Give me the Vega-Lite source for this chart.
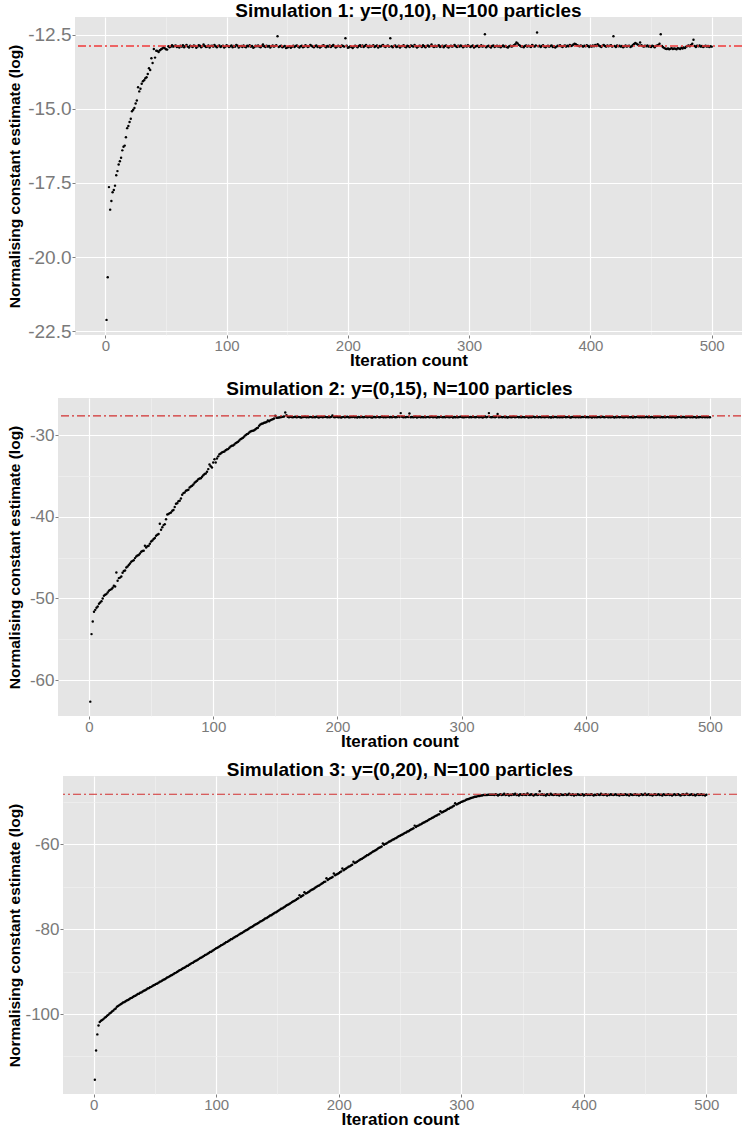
{
  "$schema": "https://vega.github.io/schema/vega-lite/v6.json",
  "background": "white",
  "padding": {"left": 6, "top": 2, "right": 0, "bottom": 0},
  "spacing": 12,
  "config": {
    "font": "Liberation Sans",
    "view": {"fill": "#E5E5E5", "stroke": null},
    "axis": {
      "domain": false,
      "tickColor": "#7F7F7F",
      "tickSize": 3,
      "labelColor": "#7A7A7A",
      "labelFont": "Liberation Sans",
      "titleFont": "Liberation Sans",
      "titleFontWeight": "bold",
      "titleColor": "black"
    },
    "axisX": {"labelFontSize": 15, "labelPadding": 0, "titleFontSize": 17, "titlePadding": -1},
    "axisY": {"labelFontSize": 17, "labelPadding": 1, "titleFontSize": 15.5},
    "title": {"font": "Liberation Sans", "fontSize": 19, "fontWeight": "bold", "color": "black", "anchor": "middle", "offset": -4}
  },
  "datasets": {
    "sim1": [
      {"i":1,"v":-22.12},{"i":2,"v":-20.68},{"i":3,"v":-17.64},{"i":4,"v":-18.40},{"i":5,"v":-18.11},{"i":6,"v":-17.81},{"i":7,"v":-17.74},{"i":8,"v":-17.59},{"i":9,"v":-17.24},{"i":10,"v":-17.10},
      {"i":11,"v":-16.88},{"i":12,"v":-16.77},{"i":13,"v":-16.65},{"i":14,"v":-16.40},{"i":15,"v":-16.28},{"i":16,"v":-16.24},{"i":17,"v":-15.96},{"i":18,"v":-15.65},{"i":19,"v":-15.58},{"i":20,"v":-15.44},
      {"i":21,"v":-15.33},{"i":22,"v":-15.08},{"i":23,"v":-15.03},{"i":24,"v":-14.97},{"i":25,"v":-14.82},{"i":26,"v":-14.72},{"i":27,"v":-14.27},{"i":28,"v":-14.41},{"i":29,"v":-14.32},{"i":30,"v":-14.15},
      {"i":31,"v":-14.07},{"i":32,"v":-14.03},{"i":33,"v":-13.97},{"i":34,"v":-13.93},{"i":35,"v":-13.82},{"i":36,"v":-13.63},{"i":37,"v":-13.69},{"i":38,"v":-13.29},{"i":39,"v":-13.45},{"i":40,"v":-12.98},
      {"i":41,"v":-13.27},{"i":42,"v":-13.04},{"i":43,"v":-13.05},{"i":44,"v":-13.08},{"i":45,"v":-13.02},{"i":46,"v":-12.99},{"i":47,"v":-12.96},{"i":48,"v":-12.93},{"i":49,"v":-12.95},{"i":50,"v":-12.99},
      {"i":51,"v":-13.00},{"i":52,"v":-12.89},{"i":53,"v":-12.92},{"i":54,"v":-12.90},{"i":55,"v":-12.85},{"i":56,"v":-12.90},{"i":57,"v":-12.88},{"i":58,"v":-12.86},{"i":59,"v":-12.91},{"i":60,"v":-12.89},
      {"i":61,"v":-12.93},{"i":62,"v":-12.87},{"i":63,"v":-12.90},{"i":64,"v":-12.85},{"i":65,"v":-12.92},{"i":66,"v":-12.88},{"i":67,"v":-12.84},{"i":68,"v":-12.90},{"i":69,"v":-12.93},{"i":70,"v":-12.87},
      {"i":71,"v":-12.89},{"i":72,"v":-12.91},{"i":73,"v":-12.86},{"i":74,"v":-12.88},{"i":75,"v":-12.94},{"i":76,"v":-12.90},{"i":77,"v":-12.85},{"i":78,"v":-12.87},{"i":79,"v":-12.92},{"i":80,"v":-12.89},
      {"i":81,"v":-12.83},{"i":82,"v":-12.88},{"i":83,"v":-12.91},{"i":84,"v":-12.90},{"i":85,"v":-12.86},{"i":86,"v":-12.93},{"i":87,"v":-12.88},{"i":88,"v":-12.87},{"i":89,"v":-12.90},{"i":90,"v":-12.84},
      {"i":91,"v":-12.89},{"i":92,"v":-12.92},{"i":93,"v":-12.88},{"i":94,"v":-12.86},{"i":95,"v":-12.91},{"i":96,"v":-12.89},{"i":97,"v":-12.87},{"i":98,"v":-12.93},{"i":99,"v":-12.90},{"i":100,"v":-12.85},
      {"i":101,"v":-12.88},{"i":102,"v":-12.91},{"i":103,"v":-12.89},{"i":104,"v":-12.86},{"i":105,"v":-12.92},{"i":106,"v":-12.88},{"i":107,"v":-12.90},{"i":108,"v":-12.84},{"i":109,"v":-12.87},{"i":110,"v":-12.93},
      {"i":111,"v":-12.89},{"i":112,"v":-12.88},{"i":113,"v":-12.91},{"i":114,"v":-12.86},{"i":115,"v":-12.90},{"i":116,"v":-12.92},{"i":117,"v":-12.87},{"i":118,"v":-12.89},{"i":119,"v":-12.85},{"i":120,"v":-12.90},
      {"i":121,"v":-12.88},{"i":122,"v":-12.94},{"i":123,"v":-12.91},{"i":124,"v":-12.87},{"i":125,"v":-12.89},{"i":126,"v":-12.86},{"i":127,"v":-12.90},{"i":128,"v":-12.92},{"i":129,"v":-12.88},{"i":130,"v":-12.83},
      {"i":131,"v":-12.89},{"i":132,"v":-12.91},{"i":133,"v":-12.87},{"i":134,"v":-12.90},{"i":135,"v":-12.88},{"i":136,"v":-12.93},{"i":137,"v":-12.89},{"i":138,"v":-12.86},{"i":139,"v":-12.90},{"i":140,"v":-12.88},
      {"i":141,"v":-12.85},{"i":142,"v":-12.55},{"i":143,"v":-12.91},{"i":144,"v":-12.89},{"i":145,"v":-12.87},{"i":146,"v":-12.92},{"i":147,"v":-12.90},{"i":148,"v":-12.88},{"i":149,"v":-12.95},{"i":150,"v":-12.93},
      {"i":151,"v":-12.91},{"i":152,"v":-12.89},{"i":153,"v":-12.94},{"i":154,"v":-12.90},{"i":155,"v":-12.87},{"i":156,"v":-12.91},{"i":157,"v":-12.88},{"i":158,"v":-12.86},{"i":159,"v":-12.90},{"i":160,"v":-12.93},
      {"i":161,"v":-12.89},{"i":162,"v":-12.87},{"i":163,"v":-12.92},{"i":164,"v":-12.90},{"i":165,"v":-12.85},{"i":166,"v":-12.88},{"i":167,"v":-12.91},{"i":168,"v":-12.89},{"i":169,"v":-12.84},{"i":170,"v":-12.87},
      {"i":171,"v":-12.90},{"i":172,"v":-12.92},{"i":173,"v":-12.88},{"i":174,"v":-12.86},{"i":175,"v":-12.91},{"i":176,"v":-12.89},{"i":177,"v":-12.93},{"i":178,"v":-12.90},{"i":179,"v":-12.87},{"i":180,"v":-12.85},
      {"i":181,"v":-12.89},{"i":182,"v":-12.92},{"i":183,"v":-12.88},{"i":184,"v":-12.90},{"i":185,"v":-12.86},{"i":186,"v":-12.91},{"i":187,"v":-12.88},{"i":188,"v":-12.84},{"i":189,"v":-12.89},{"i":190,"v":-12.93},
      {"i":191,"v":-12.90},{"i":192,"v":-12.87},{"i":193,"v":-12.89},{"i":194,"v":-12.91},{"i":195,"v":-12.86},{"i":196,"v":-12.88},{"i":197,"v":-12.90},{"i":198,"v":-12.62},{"i":199,"v":-12.87},{"i":200,"v":-12.94},
      {"i":201,"v":-12.92},{"i":202,"v":-12.89},{"i":203,"v":-12.91},{"i":204,"v":-12.95},{"i":205,"v":-12.90},{"i":206,"v":-12.87},{"i":207,"v":-12.89},{"i":208,"v":-12.92},{"i":209,"v":-12.88},{"i":210,"v":-12.85},
      {"i":211,"v":-12.90},{"i":212,"v":-12.86},{"i":213,"v":-12.91},{"i":214,"v":-12.88},{"i":215,"v":-12.84},{"i":216,"v":-12.89},{"i":217,"v":-12.92},{"i":218,"v":-12.87},{"i":219,"v":-12.90},{"i":220,"v":-12.88},
      {"i":221,"v":-12.85},{"i":222,"v":-12.91},{"i":223,"v":-12.89},{"i":224,"v":-12.86},{"i":225,"v":-12.93},{"i":226,"v":-12.88},{"i":227,"v":-12.90},{"i":228,"v":-12.87},{"i":229,"v":-12.84},{"i":230,"v":-12.89},
      {"i":231,"v":-12.91},{"i":232,"v":-12.88},{"i":233,"v":-12.86},{"i":234,"v":-12.90},{"i":235,"v":-12.62},{"i":236,"v":-12.89},{"i":237,"v":-12.92},{"i":238,"v":-12.88},{"i":239,"v":-12.86},{"i":240,"v":-12.91},
      {"i":241,"v":-12.90},{"i":242,"v":-12.87},{"i":243,"v":-12.93},{"i":244,"v":-12.89},{"i":245,"v":-12.88},{"i":246,"v":-12.85},{"i":247,"v":-12.90},{"i":248,"v":-12.92},{"i":249,"v":-12.87},{"i":250,"v":-12.89},
      {"i":251,"v":-12.91},{"i":252,"v":-12.86},{"i":253,"v":-12.88},{"i":254,"v":-12.90},{"i":255,"v":-12.84},{"i":256,"v":-12.89},{"i":257,"v":-12.93},{"i":258,"v":-12.90},{"i":259,"v":-12.87},{"i":260,"v":-12.88},
      {"i":261,"v":-12.91},{"i":262,"v":-12.85},{"i":263,"v":-12.89},{"i":264,"v":-12.92},{"i":265,"v":-12.88},{"i":266,"v":-12.86},{"i":267,"v":-12.90},{"i":268,"v":-12.88},{"i":269,"v":-12.83},{"i":270,"v":-12.89},
      {"i":271,"v":-12.91},{"i":272,"v":-12.87},{"i":273,"v":-12.90},{"i":274,"v":-12.88},{"i":275,"v":-12.85},{"i":276,"v":-12.91},{"i":277,"v":-12.89},{"i":278,"v":-12.87},{"i":279,"v":-12.92},{"i":280,"v":-12.88},
      {"i":281,"v":-12.86},{"i":282,"v":-12.90},{"i":283,"v":-12.93},{"i":284,"v":-12.89},{"i":285,"v":-12.87},{"i":286,"v":-12.90},{"i":287,"v":-12.88},{"i":288,"v":-12.84},{"i":289,"v":-12.89},{"i":290,"v":-12.91},
      {"i":291,"v":-12.87},{"i":292,"v":-12.90},{"i":293,"v":-12.86},{"i":294,"v":-12.88},{"i":295,"v":-12.92},{"i":296,"v":-12.89},{"i":297,"v":-12.87},{"i":298,"v":-12.90},{"i":299,"v":-12.85},{"i":300,"v":-12.88},
      {"i":301,"v":-12.91},{"i":302,"v":-12.89},{"i":303,"v":-12.86},{"i":304,"v":-12.93},{"i":305,"v":-12.90},{"i":306,"v":-12.88},{"i":307,"v":-12.87},{"i":308,"v":-12.91},{"i":309,"v":-12.89},{"i":310,"v":-12.85},
      {"i":311,"v":-12.90},{"i":312,"v":-12.88},{"i":313,"v":-12.48},{"i":314,"v":-12.92},{"i":315,"v":-12.89},{"i":316,"v":-12.87},{"i":317,"v":-12.90},{"i":318,"v":-12.93},{"i":319,"v":-12.88},{"i":320,"v":-12.86},
      {"i":321,"v":-12.91},{"i":322,"v":-12.89},{"i":323,"v":-12.87},{"i":324,"v":-12.90},{"i":325,"v":-12.88},{"i":326,"v":-12.92},{"i":327,"v":-12.89},{"i":328,"v":-12.86},{"i":329,"v":-12.90},{"i":330,"v":-12.88},
      {"i":331,"v":-12.91},{"i":332,"v":-12.93},{"i":333,"v":-12.89},{"i":334,"v":-12.87},{"i":335,"v":-12.90},{"i":336,"v":-12.88},{"i":337,"v":-12.85},{"i":338,"v":-12.82},{"i":339,"v":-12.76},{"i":340,"v":-12.79},
      {"i":341,"v":-12.84},{"i":342,"v":-12.87},{"i":343,"v":-12.90},{"i":344,"v":-12.89},{"i":345,"v":-12.92},{"i":346,"v":-12.88},{"i":347,"v":-12.86},{"i":348,"v":-12.90},{"i":349,"v":-12.87},{"i":350,"v":-12.89},
      {"i":351,"v":-12.91},{"i":352,"v":-12.84},{"i":353,"v":-12.88},{"i":354,"v":-12.90},{"i":355,"v":-12.86},{"i":356,"v":-12.42},{"i":357,"v":-12.89},{"i":358,"v":-12.87},{"i":359,"v":-12.91},{"i":360,"v":-12.88},
      {"i":361,"v":-12.85},{"i":362,"v":-12.90},{"i":363,"v":-12.92},{"i":364,"v":-12.89},{"i":365,"v":-12.87},{"i":366,"v":-12.90},{"i":367,"v":-12.88},{"i":368,"v":-12.86},{"i":369,"v":-12.91},{"i":370,"v":-12.89},
      {"i":371,"v":-12.93},{"i":372,"v":-12.90},{"i":373,"v":-12.87},{"i":374,"v":-12.88},{"i":375,"v":-12.85},{"i":376,"v":-12.89},{"i":377,"v":-12.91},{"i":378,"v":-12.88},{"i":379,"v":-12.86},{"i":380,"v":-12.90},
      {"i":381,"v":-12.87},{"i":382,"v":-12.89},{"i":383,"v":-12.84},{"i":384,"v":-12.88},{"i":385,"v":-12.86},{"i":386,"v":-12.83},{"i":387,"v":-12.80},{"i":388,"v":-12.82},{"i":389,"v":-12.85},{"i":390,"v":-12.87},
      {"i":391,"v":-12.89},{"i":392,"v":-12.86},{"i":393,"v":-12.88},{"i":394,"v":-12.90},{"i":395,"v":-12.87},{"i":396,"v":-12.89},{"i":397,"v":-12.85},{"i":398,"v":-12.88},{"i":399,"v":-12.91},{"i":400,"v":-12.87},
      {"i":401,"v":-12.90},{"i":402,"v":-12.86},{"i":403,"v":-12.89},{"i":404,"v":-12.84},{"i":405,"v":-12.88},{"i":406,"v":-12.82},{"i":407,"v":-12.86},{"i":408,"v":-12.89},{"i":409,"v":-12.91},{"i":410,"v":-12.87},
      {"i":411,"v":-12.84},{"i":412,"v":-12.88},{"i":413,"v":-12.90},{"i":414,"v":-12.86},{"i":415,"v":-12.89},{"i":416,"v":-12.87},{"i":417,"v":-12.85},{"i":418,"v":-12.90},{"i":419,"v":-12.55},{"i":420,"v":-12.88},
      {"i":421,"v":-12.91},{"i":422,"v":-12.86},{"i":423,"v":-12.89},{"i":424,"v":-12.87},{"i":425,"v":-12.90},{"i":426,"v":-12.88},{"i":427,"v":-12.92},{"i":428,"v":-12.89},{"i":429,"v":-12.86},{"i":430,"v":-12.90},
      {"i":431,"v":-12.88},{"i":432,"v":-12.87},{"i":433,"v":-12.91},{"i":434,"v":-12.89},{"i":435,"v":-12.84},{"i":436,"v":-12.81},{"i":437,"v":-12.78},{"i":438,"v":-12.80},{"i":439,"v":-12.83},{"i":440,"v":-12.86},
      {"i":441,"v":-12.76},{"i":442,"v":-12.85},{"i":443,"v":-12.88},{"i":444,"v":-12.90},{"i":445,"v":-12.87},{"i":446,"v":-12.89},{"i":447,"v":-12.86},{"i":448,"v":-12.90},{"i":449,"v":-12.88},{"i":450,"v":-12.91},
      {"i":451,"v":-12.87},{"i":452,"v":-12.89},{"i":453,"v":-12.92},{"i":454,"v":-12.88},{"i":455,"v":-12.86},{"i":456,"v":-12.84},{"i":457,"v":-12.80},{"i":458,"v":-12.48},{"i":459,"v":-12.88},{"i":460,"v":-12.92},
      {"i":461,"v":-12.95},{"i":462,"v":-12.97},{"i":463,"v":-12.98},{"i":464,"v":-12.96},{"i":465,"v":-12.99},{"i":466,"v":-12.97},{"i":467,"v":-12.95},{"i":468,"v":-12.98},{"i":469,"v":-12.96},{"i":470,"v":-12.97},
      {"i":471,"v":-12.99},{"i":472,"v":-12.95},{"i":473,"v":-12.96},{"i":474,"v":-12.98},{"i":475,"v":-12.94},{"i":476,"v":-12.96},{"i":477,"v":-12.93},{"i":478,"v":-12.95},{"i":479,"v":-12.90},{"i":480,"v":-12.88},
      {"i":481,"v":-12.86},{"i":482,"v":-12.89},{"i":483,"v":-12.84},{"i":484,"v":-12.80},{"i":485,"v":-12.67},{"i":486,"v":-12.88},{"i":487,"v":-12.91},{"i":488,"v":-12.87},{"i":489,"v":-12.89},{"i":490,"v":-12.86},
      {"i":491,"v":-12.90},{"i":492,"v":-12.88},{"i":493,"v":-12.91},{"i":494,"v":-12.89},{"i":495,"v":-12.87},{"i":496,"v":-12.90},{"i":497,"v":-12.88},{"i":498,"v":-12.91},{"i":499,"v":-12.89},{"i":500,"v":-12.90}
    ],
    "sim2": [
      {"i":1,"v":-62.64},{"i":2,"v":-54.37},{"i":3,"v":-52.82},{"i":4,"v":-51.63},{"i":5,"v":-51.40},{"i":6,"v":-51.14},{"i":7,"v":-50.98},{"i":8,"v":-50.65},{"i":9,"v":-50.50},{"i":10,"v":-50.33},
      {"i":11,"v":-50.00},{"i":12,"v":-49.67},{"i":13,"v":-49.55},{"i":14,"v":-49.47},{"i":15,"v":-49.27},{"i":16,"v":-49.06},{"i":17,"v":-48.95},{"i":18,"v":-48.86},{"i":19,"v":-48.69},{"i":20,"v":-48.45},
      {"i":21,"v":-48.53},{"i":22,"v":-46.82},{"i":23,"v":-47.84},{"i":24,"v":-47.51},{"i":25,"v":-47.45},{"i":26,"v":-47.31},{"i":27,"v":-46.85},{"i":28,"v":-46.65},{"i":29,"v":-46.57},{"i":30,"v":-46.20},
      {"i":31,"v":-46.08},{"i":32,"v":-45.90},{"i":33,"v":-45.71},{"i":34,"v":-45.51},{"i":35,"v":-45.40},{"i":36,"v":-45.31},{"i":37,"v":-45.06},{"i":38,"v":-44.86},{"i":39,"v":-44.75},{"i":40,"v":-44.69},
      {"i":41,"v":-44.49},{"i":42,"v":-44.29},{"i":43,"v":-44.20},{"i":44,"v":-44.16},{"i":45,"v":-43.55},{"i":46,"v":-43.76},{"i":47,"v":-43.60},{"i":48,"v":-43.55},{"i":49,"v":-43.31},{"i":50,"v":-43.02},
      {"i":51,"v":-42.90},{"i":52,"v":-42.73},{"i":53,"v":-42.61},{"i":54,"v":-42.33},{"i":55,"v":-42.20},{"i":56,"v":-42.12},{"i":57,"v":-40.86},{"i":58,"v":-41.59},{"i":59,"v":-41.27},{"i":60,"v":-41.02},
      {"i":61,"v":-40.90},{"i":62,"v":-40.29},{"i":63,"v":-39.71},{"i":64,"v":-39.67},{"i":65,"v":-39.55},{"i":66,"v":-39.47},{"i":67,"v":-39.27},{"i":68,"v":-39.18},{"i":69,"v":-38.80},{"i":70,"v":-38.41},
      {"i":71,"v":-38.33},{"i":72,"v":-38.10},{"i":73,"v":-38.04},{"i":74,"v":-37.76},{"i":75,"v":-37.31},{"i":76,"v":-37.10},{"i":77,"v":-37.02},{"i":78,"v":-36.82},{"i":79,"v":-36.75},{"i":80,"v":-36.69},
      {"i":81,"v":-36.41},{"i":82,"v":-36.30},{"i":83,"v":-36.20},{"i":84,"v":-36.04},{"i":85,"v":-35.84},{"i":86,"v":-35.70},{"i":87,"v":-35.59},{"i":88,"v":-35.39},{"i":89,"v":-35.30},{"i":90,"v":-35.27},
      {"i":91,"v":-35.10},{"i":92,"v":-34.90},{"i":93,"v":-34.75},{"i":94,"v":-34.69},{"i":95,"v":-34.49},{"i":96,"v":-34.16},{"i":97,"v":-33.59},{"i":98,"v":-33.80},{"i":99,"v":-33.96},{"i":100,"v":-33.35},
      {"i":101,"v":-32.94},{"i":102,"v":-33.35},{"i":103,"v":-32.86},{"i":104,"v":-32.60},{"i":105,"v":-32.33},{"i":106,"v":-32.24},{"i":107,"v":-32.12},{"i":108,"v":-32.05},{"i":109,"v":-32.00},{"i":110,"v":-31.84},
      {"i":111,"v":-31.75},{"i":112,"v":-31.71},{"i":113,"v":-31.55},{"i":114,"v":-31.39},{"i":115,"v":-31.30},{"i":116,"v":-31.27},{"i":117,"v":-31.14},{"i":118,"v":-30.98},{"i":119,"v":-30.90},{"i":120,"v":-30.82},
      {"i":121,"v":-30.65},{"i":122,"v":-30.49},{"i":123,"v":-30.40},{"i":124,"v":-30.33},{"i":125,"v":-30.16},{"i":126,"v":-30.00},{"i":127,"v":-29.90},{"i":128,"v":-29.84},{"i":129,"v":-29.67},{"i":130,"v":-29.55},
      {"i":131,"v":-29.50},{"i":132,"v":-29.47},{"i":133,"v":-29.39},{"i":134,"v":-29.27},{"i":135,"v":-29.15},{"i":136,"v":-29.10},{"i":137,"v":-28.86},{"i":138,"v":-28.69},{"i":139,"v":-28.60},{"i":140,"v":-28.57},
      {"i":141,"v":-28.49},{"i":142,"v":-28.45},{"i":143,"v":-28.38},{"i":144,"v":-28.20},{"i":145,"v":-28.29},{"i":146,"v":-28.16},{"i":147,"v":-28.10},{"i":148,"v":-28.04},{"i":149,"v":-27.96},{"i":150,"v":-27.63},
      {"i":151,"v":-27.88},{"i":152,"v":-27.86},{"i":153,"v":-27.84},{"i":154,"v":-27.80},{"i":155,"v":-27.78},{"i":156,"v":-27.76},{"i":157,"v":-27.71},{"i":158,"v":-27.22},{"i":159,"v":-27.55},{"i":160,"v":-27.76},
      {"i":161,"v":-27.80},{"i":162,"v":-27.74},{"i":163,"v":-27.77},{"i":164,"v":-27.82},{"i":165,"v":-27.79},{"i":166,"v":-27.75},{"i":167,"v":-27.81},{"i":168,"v":-27.78},{"i":169,"v":-27.76},{"i":170,"v":-27.80},
      {"i":171,"v":-27.83},{"i":172,"v":-27.79},{"i":173,"v":-27.77},{"i":174,"v":-27.74},{"i":175,"v":-27.80},{"i":176,"v":-27.78},{"i":177,"v":-27.82},{"i":178,"v":-27.76},{"i":179,"v":-27.79},{"i":180,"v":-27.81},
      {"i":181,"v":-27.77},{"i":182,"v":-27.80},{"i":183,"v":-27.75},{"i":184,"v":-27.78},{"i":185,"v":-27.83},{"i":186,"v":-27.79},{"i":187,"v":-27.76},{"i":188,"v":-27.81},{"i":189,"v":-27.78},{"i":190,"v":-27.74},
      {"i":191,"v":-27.79},{"i":192,"v":-27.82},{"i":193,"v":-27.77},{"i":194,"v":-27.80},{"i":195,"v":-27.76},{"i":196,"v":-27.60},{"i":197,"v":-27.79},{"i":198,"v":-27.81},{"i":199,"v":-27.75},{"i":200,"v":-27.78},
      {"i":201,"v":-27.80},{"i":202,"v":-27.77},{"i":203,"v":-27.83},{"i":204,"v":-27.79},{"i":205,"v":-27.76},{"i":206,"v":-27.81},{"i":207,"v":-27.78},{"i":208,"v":-27.74},{"i":209,"v":-27.80},{"i":210,"v":-27.82},
      {"i":211,"v":-27.77},{"i":212,"v":-27.79},{"i":213,"v":-27.75},{"i":214,"v":-27.81},{"i":215,"v":-27.78},{"i":216,"v":-27.83},{"i":217,"v":-27.76},{"i":218,"v":-27.80},{"i":219,"v":-27.79},{"i":220,"v":-27.77},
      {"i":221,"v":-27.82},{"i":222,"v":-27.78},{"i":223,"v":-27.75},{"i":224,"v":-27.80},{"i":225,"v":-27.79},{"i":226,"v":-27.76},{"i":227,"v":-27.81},{"i":228,"v":-27.84},{"i":229,"v":-27.78},{"i":230,"v":-27.77},
      {"i":231,"v":-27.80},{"i":232,"v":-27.76},{"i":233,"v":-27.79},{"i":234,"v":-27.82},{"i":235,"v":-27.78},{"i":236,"v":-27.75},{"i":237,"v":-27.81},{"i":238,"v":-27.77},{"i":239,"v":-27.80},{"i":240,"v":-27.79},
      {"i":241,"v":-27.76},{"i":242,"v":-27.82},{"i":243,"v":-27.78},{"i":244,"v":-27.80},{"i":245,"v":-27.74},{"i":246,"v":-27.79},{"i":247,"v":-27.81},{"i":248,"v":-27.77},{"i":249,"v":-27.70},{"i":250,"v":-27.78},
      {"i":251,"v":-27.30},{"i":252,"v":-27.75},{"i":253,"v":-27.80},{"i":254,"v":-27.78},{"i":255,"v":-27.82},{"i":256,"v":-27.76},{"i":257,"v":-27.79},{"i":258,"v":-27.35},{"i":259,"v":-27.81},{"i":260,"v":-27.77},
      {"i":261,"v":-27.80},{"i":262,"v":-27.78},{"i":263,"v":-27.75},{"i":264,"v":-27.83},{"i":265,"v":-27.79},{"i":266,"v":-27.76},{"i":267,"v":-27.81},{"i":268,"v":-27.78},{"i":269,"v":-27.80},{"i":270,"v":-27.77},
      {"i":271,"v":-27.82},{"i":272,"v":-27.79},{"i":273,"v":-27.76},{"i":274,"v":-27.80},{"i":275,"v":-27.78},{"i":276,"v":-27.74},{"i":277,"v":-27.81},{"i":278,"v":-27.79},{"i":279,"v":-27.77},{"i":280,"v":-27.83},
      {"i":281,"v":-27.78},{"i":282,"v":-27.80},{"i":283,"v":-27.76},{"i":284,"v":-27.79},{"i":285,"v":-27.82},{"i":286,"v":-27.77},{"i":287,"v":-27.80},{"i":288,"v":-27.75},{"i":289,"v":-27.78},{"i":290,"v":-27.81},
      {"i":291,"v":-27.79},{"i":292,"v":-27.76},{"i":293,"v":-27.83},{"i":294,"v":-27.78},{"i":295,"v":-27.80},{"i":296,"v":-27.77},{"i":297,"v":-27.81},{"i":298,"v":-27.79},{"i":299,"v":-27.74},{"i":300,"v":-27.78},
      {"i":301,"v":-27.80},{"i":302,"v":-27.82},{"i":303,"v":-27.77},{"i":304,"v":-27.79},{"i":305,"v":-27.76},{"i":306,"v":-27.81},{"i":307,"v":-27.78},{"i":308,"v":-27.80},{"i":309,"v":-27.75},{"i":310,"v":-27.79},
      {"i":311,"v":-27.82},{"i":312,"v":-27.78},{"i":313,"v":-27.76},{"i":314,"v":-27.80},{"i":315,"v":-27.79},{"i":316,"v":-27.77},{"i":317,"v":-27.83},{"i":318,"v":-27.78},{"i":319,"v":-27.72},{"i":320,"v":-27.80},
      {"i":321,"v":-27.76},{"i":322,"v":-27.30},{"i":323,"v":-27.79},{"i":324,"v":-27.81},{"i":325,"v":-27.77},{"i":326,"v":-27.78},{"i":327,"v":-27.80},{"i":328,"v":-27.75},{"i":329,"v":-27.40},{"i":330,"v":-27.82},
      {"i":331,"v":-27.79},{"i":332,"v":-27.77},{"i":333,"v":-27.80},{"i":334,"v":-27.76},{"i":335,"v":-27.81},{"i":336,"v":-27.78},{"i":337,"v":-27.83},{"i":338,"v":-27.79},{"i":339,"v":-27.77},{"i":340,"v":-27.80},
      {"i":341,"v":-27.78},{"i":342,"v":-27.75},{"i":343,"v":-27.81},{"i":344,"v":-27.79},{"i":345,"v":-27.76},{"i":346,"v":-27.82},{"i":347,"v":-27.78},{"i":348,"v":-27.80},{"i":349,"v":-27.77},{"i":350,"v":-27.79},
      {"i":351,"v":-27.81},{"i":352,"v":-27.76},{"i":353,"v":-27.79},{"i":354,"v":-27.83},{"i":355,"v":-27.78},{"i":356,"v":-27.80},{"i":357,"v":-27.77},{"i":358,"v":-27.75},{"i":359,"v":-27.81},{"i":360,"v":-27.79},
      {"i":361,"v":-27.78},{"i":362,"v":-27.82},{"i":363,"v":-27.76},{"i":364,"v":-27.80},{"i":365,"v":-27.79},{"i":366,"v":-27.77},{"i":367,"v":-27.81},{"i":368,"v":-27.78},{"i":369,"v":-27.74},{"i":370,"v":-27.80},
      {"i":371,"v":-27.79},{"i":372,"v":-27.83},{"i":373,"v":-27.77},{"i":374,"v":-27.80},{"i":375,"v":-27.76},{"i":376,"v":-27.78},{"i":377,"v":-27.81},{"i":378,"v":-27.79},{"i":379,"v":-27.82},{"i":380,"v":-27.77},
      {"i":381,"v":-27.80},{"i":382,"v":-27.78},{"i":383,"v":-27.75},{"i":384,"v":-27.81},{"i":385,"v":-27.79},{"i":386,"v":-27.76},{"i":387,"v":-27.80},{"i":388,"v":-27.83},{"i":389,"v":-27.78},{"i":390,"v":-27.77},
      {"i":391,"v":-27.79},{"i":392,"v":-27.81},{"i":393,"v":-27.76},{"i":394,"v":-27.80},{"i":395,"v":-27.78},{"i":396,"v":-27.82},{"i":397,"v":-27.77},{"i":398,"v":-27.79},{"i":399,"v":-27.75},{"i":400,"v":-27.80},
      {"i":401,"v":-27.78},{"i":402,"v":-27.81},{"i":403,"v":-27.77},{"i":404,"v":-27.79},{"i":405,"v":-27.83},{"i":406,"v":-27.76},{"i":407,"v":-27.80},{"i":408,"v":-27.78},{"i":409,"v":-27.82},{"i":410,"v":-27.79},
      {"i":411,"v":-27.77},{"i":412,"v":-27.80},{"i":413,"v":-27.75},{"i":414,"v":-27.78},{"i":415,"v":-27.81},{"i":416,"v":-27.79},{"i":417,"v":-27.76},{"i":418,"v":-27.82},{"i":419,"v":-27.78},{"i":420,"v":-27.80},
      {"i":421,"v":-27.79},{"i":422,"v":-27.77},{"i":423,"v":-27.83},{"i":424,"v":-27.78},{"i":425,"v":-27.80},{"i":426,"v":-27.76},{"i":427,"v":-27.81},{"i":428,"v":-27.79},{"i":429,"v":-27.77},{"i":430,"v":-27.80},
      {"i":431,"v":-27.82},{"i":432,"v":-27.78},{"i":433,"v":-27.76},{"i":434,"v":-27.80},{"i":435,"v":-27.79},{"i":436,"v":-27.81},{"i":437,"v":-27.77},{"i":438,"v":-27.84},{"i":439,"v":-27.78},{"i":440,"v":-27.80},
      {"i":441,"v":-27.76},{"i":442,"v":-27.79},{"i":443,"v":-27.81},{"i":444,"v":-27.78},{"i":445,"v":-27.80},{"i":446,"v":-27.77},{"i":447,"v":-27.82},{"i":448,"v":-27.79},{"i":449,"v":-27.75},{"i":450,"v":-27.80},
      {"i":451,"v":-27.78},{"i":452,"v":-27.81},{"i":453,"v":-27.77},{"i":454,"v":-27.79},{"i":455,"v":-27.83},{"i":456,"v":-27.78},{"i":457,"v":-27.80},{"i":458,"v":-27.76},{"i":459,"v":-27.79},{"i":460,"v":-27.81},
      {"i":461,"v":-27.77},{"i":462,"v":-27.80},{"i":463,"v":-27.78},{"i":464,"v":-27.82},{"i":465,"v":-27.79},{"i":466,"v":-27.76},{"i":467,"v":-27.80},{"i":468,"v":-27.78},{"i":469,"v":-27.81},{"i":470,"v":-27.77},
      {"i":471,"v":-27.79},{"i":472,"v":-27.83},{"i":473,"v":-27.78},{"i":474,"v":-27.80},{"i":475,"v":-27.76},{"i":476,"v":-27.79},{"i":477,"v":-27.81},{"i":478,"v":-27.78},{"i":479,"v":-27.77},{"i":480,"v":-27.80},
      {"i":481,"v":-27.82},{"i":482,"v":-27.79},{"i":483,"v":-27.76},{"i":484,"v":-27.80},{"i":485,"v":-27.78},{"i":486,"v":-27.81},{"i":487,"v":-27.77},{"i":488,"v":-27.79},{"i":489,"v":-27.83},{"i":490,"v":-27.78},
      {"i":491,"v":-27.80},{"i":492,"v":-27.77},{"i":493,"v":-27.79},{"i":494,"v":-27.81},{"i":495,"v":-27.76},{"i":496,"v":-27.80},{"i":497,"v":-27.78},{"i":498,"v":-27.82},{"i":499,"v":-27.79},{"i":500,"v":-27.80}
    ],
    "sim3": [
      {"i":1,"v":-115.5},{"i":2,"v":-108.6},{"i":3,"v":-104.8},{"i":4,"v":-102.7},{"i":5,"v":-101.9},{"i":6,"v":-101.6},{"i":7,"v":-101.4},{"i":8,"v":-101.2},{"i":9,"v":-100.9},{"i":10,"v":-100.7},
      {"i":11,"v":-100.4},{"i":12,"v":-100.2},{"i":13,"v":-99.9},{"i":14,"v":-99.7},{"i":15,"v":-99.4},{"i":16,"v":-99.2},{"i":17,"v":-98.9},{"i":18,"v":-98.7},{"i":19,"v":-98.3},{"i":20,"v":-98.1},
      {"i":21,"v":-97.9},{"i":22,"v":-97.7},{"i":23,"v":-97.5},{"i":24,"v":-97.3},{"i":25,"v":-97.2},{"i":26,"v":-97.0},{"i":27,"v":-96.8},{"i":28,"v":-96.7},{"i":29,"v":-96.5},{"i":30,"v":-96.3},
      {"i":31,"v":-96.2},{"i":32,"v":-96.0},{"i":33,"v":-95.8},{"i":34,"v":-95.7},{"i":35,"v":-95.5},{"i":36,"v":-95.3},{"i":37,"v":-95.2},{"i":38,"v":-95.0},{"i":39,"v":-94.9},{"i":40,"v":-94.7},
      {"i":41,"v":-94.5},{"i":42,"v":-94.4},{"i":43,"v":-94.2},{"i":44,"v":-94.0},{"i":45,"v":-93.9},{"i":46,"v":-93.7},{"i":47,"v":-93.6},{"i":48,"v":-93.4},{"i":49,"v":-93.2},{"i":50,"v":-93.1},
      {"i":51,"v":-92.9},{"i":52,"v":-92.8},{"i":53,"v":-92.6},{"i":54,"v":-92.4},{"i":55,"v":-92.3},{"i":56,"v":-92.1},{"i":57,"v":-91.9},{"i":58,"v":-91.8},{"i":59,"v":-91.6},{"i":60,"v":-91.4},
      {"i":61,"v":-91.3},{"i":62,"v":-91.1},{"i":63,"v":-90.9},{"i":64,"v":-90.8},{"i":65,"v":-90.6},{"i":66,"v":-90.4},{"i":67,"v":-90.3},{"i":68,"v":-90.1},{"i":69,"v":-89.9},{"i":70,"v":-89.7},
      {"i":71,"v":-89.6},{"i":72,"v":-89.4},{"i":73,"v":-89.2},{"i":74,"v":-89.1},{"i":75,"v":-88.9},{"i":76,"v":-88.7},{"i":77,"v":-88.6},{"i":78,"v":-88.4},{"i":79,"v":-88.2},{"i":80,"v":-88.0},
      {"i":81,"v":-87.9},{"i":82,"v":-87.7},{"i":83,"v":-87.5},{"i":84,"v":-87.4},{"i":85,"v":-87.2},{"i":86,"v":-87.0},{"i":87,"v":-86.8},{"i":88,"v":-86.7},{"i":89,"v":-86.5},{"i":90,"v":-86.3},
      {"i":91,"v":-86.1},{"i":92,"v":-86.0},{"i":93,"v":-85.8},{"i":94,"v":-85.6},{"i":95,"v":-85.4},{"i":96,"v":-85.3},{"i":97,"v":-85.1},{"i":98,"v":-84.9},{"i":99,"v":-84.7},{"i":100,"v":-84.5},
      {"i":101,"v":-84.4},{"i":102,"v":-84.2},{"i":103,"v":-84.0},{"i":104,"v":-83.8},{"i":105,"v":-83.7},{"i":106,"v":-83.5},{"i":107,"v":-83.3},{"i":108,"v":-83.1},{"i":109,"v":-83.0},{"i":110,"v":-82.8},
      {"i":111,"v":-82.6},{"i":112,"v":-82.4},{"i":113,"v":-82.3},{"i":114,"v":-82.1},{"i":115,"v":-81.9},{"i":116,"v":-81.7},{"i":117,"v":-81.6},{"i":118,"v":-81.4},{"i":119,"v":-81.2},{"i":120,"v":-81.0},
      {"i":121,"v":-80.9},{"i":122,"v":-80.7},{"i":123,"v":-80.5},{"i":124,"v":-80.3},{"i":125,"v":-80.2},{"i":126,"v":-80.0},{"i":127,"v":-79.8},{"i":128,"v":-79.6},{"i":129,"v":-79.5},{"i":130,"v":-79.3},
      {"i":131,"v":-79.1},{"i":132,"v":-78.9},{"i":133,"v":-78.8},{"i":134,"v":-78.6},{"i":135,"v":-78.4},{"i":136,"v":-78.2},{"i":137,"v":-78.1},{"i":138,"v":-77.9},{"i":139,"v":-77.7},{"i":140,"v":-77.5},
      {"i":141,"v":-77.4},{"i":142,"v":-77.2},{"i":143,"v":-77.0},{"i":144,"v":-76.8},{"i":145,"v":-76.7},{"i":146,"v":-76.5},{"i":147,"v":-76.3},{"i":148,"v":-76.1},{"i":149,"v":-76.0},{"i":150,"v":-75.8},
      {"i":151,"v":-75.6},{"i":152,"v":-75.4},{"i":153,"v":-75.2},{"i":154,"v":-75.1},{"i":155,"v":-74.9},{"i":156,"v":-74.7},{"i":157,"v":-74.5},{"i":158,"v":-74.3},{"i":159,"v":-74.2},{"i":160,"v":-74.0},
      {"i":161,"v":-73.8},{"i":162,"v":-73.6},{"i":163,"v":-73.4},{"i":164,"v":-73.3},{"i":165,"v":-73.1},{"i":166,"v":-72.9},{"i":167,"v":-72.7},{"i":168,"v":-72.0},{"i":169,"v":-72.4},{"i":170,"v":-72.2},
      {"i":171,"v":-72.0},{"i":172,"v":-71.3},{"i":173,"v":-71.6},{"i":174,"v":-71.5},{"i":175,"v":-71.3},{"i":176,"v":-71.1},{"i":177,"v":-70.9},{"i":178,"v":-70.7},{"i":179,"v":-70.6},{"i":180,"v":-70.4},
      {"i":181,"v":-70.2},{"i":182,"v":-70.0},{"i":183,"v":-69.8},{"i":184,"v":-69.7},{"i":185,"v":-69.5},{"i":186,"v":-69.3},{"i":187,"v":-69.1},{"i":188,"v":-68.9},{"i":189,"v":-68.8},{"i":190,"v":-68.0},
      {"i":191,"v":-68.4},{"i":192,"v":-68.2},{"i":193,"v":-68.0},{"i":194,"v":-67.9},{"i":195,"v":-67.7},{"i":196,"v":-66.9},{"i":197,"v":-67.3},{"i":198,"v":-67.1},{"i":199,"v":-67.0},{"i":200,"v":-66.8},
      {"i":201,"v":-66.6},{"i":202,"v":-66.4},{"i":203,"v":-65.7},{"i":204,"v":-66.1},{"i":205,"v":-65.9},{"i":206,"v":-65.7},{"i":207,"v":-65.5},{"i":208,"v":-65.3},{"i":209,"v":-65.2},{"i":210,"v":-65.0},
      {"i":211,"v":-64.8},{"i":212,"v":-64.1},{"i":213,"v":-64.4},{"i":214,"v":-64.3},{"i":215,"v":-64.1},{"i":216,"v":-63.9},{"i":217,"v":-63.7},{"i":218,"v":-63.5},{"i":219,"v":-63.4},{"i":220,"v":-63.2},
      {"i":221,"v":-63.0},{"i":222,"v":-62.8},{"i":223,"v":-62.6},{"i":224,"v":-62.5},{"i":225,"v":-62.3},{"i":226,"v":-62.1},{"i":227,"v":-61.9},{"i":228,"v":-61.7},{"i":229,"v":-61.6},{"i":230,"v":-61.4},
      {"i":231,"v":-61.2},{"i":232,"v":-61.0},{"i":233,"v":-60.8},{"i":234,"v":-60.7},{"i":235,"v":-60.5},{"i":236,"v":-59.8},{"i":237,"v":-60.1},{"i":238,"v":-59.9},{"i":239,"v":-59.8},{"i":240,"v":-59.6},
      {"i":241,"v":-59.4},{"i":242,"v":-59.3},{"i":243,"v":-59.1},{"i":244,"v":-58.9},{"i":245,"v":-58.8},{"i":246,"v":-58.6},{"i":247,"v":-58.5},{"i":248,"v":-58.3},{"i":249,"v":-58.1},{"i":250,"v":-58.0},
      {"i":251,"v":-57.8},{"i":252,"v":-57.7},{"i":253,"v":-57.5},{"i":254,"v":-57.3},{"i":255,"v":-57.2},{"i":256,"v":-57.0},{"i":257,"v":-56.9},{"i":258,"v":-56.7},{"i":259,"v":-56.5},{"i":260,"v":-56.4},
      {"i":261,"v":-56.2},{"i":262,"v":-55.6},{"i":263,"v":-55.9},{"i":264,"v":-55.7},{"i":265,"v":-55.6},{"i":266,"v":-55.4},{"i":267,"v":-55.3},{"i":268,"v":-55.1},{"i":269,"v":-54.9},{"i":270,"v":-54.8},
      {"i":271,"v":-54.6},{"i":272,"v":-54.5},{"i":273,"v":-54.3},{"i":274,"v":-54.1},{"i":275,"v":-54.0},{"i":276,"v":-53.8},{"i":277,"v":-53.7},{"i":278,"v":-53.5},{"i":279,"v":-53.3},{"i":280,"v":-53.2},
      {"i":281,"v":-53.0},{"i":282,"v":-52.9},{"i":283,"v":-52.2},{"i":284,"v":-52.5},{"i":285,"v":-52.4},{"i":286,"v":-52.2},{"i":287,"v":-52.1},{"i":288,"v":-51.9},{"i":289,"v":-51.7},{"i":290,"v":-51.6},
      {"i":291,"v":-51.4},{"i":292,"v":-51.3},{"i":293,"v":-51.1},{"i":294,"v":-50.9},{"i":295,"v":-50.3},{"i":296,"v":-50.6},{"i":297,"v":-50.5},{"i":298,"v":-50.3},{"i":299,"v":-50.2},{"i":300,"v":-50.0},
      {"i":301,"v":-49.9},{"i":302,"v":-49.8},{"i":303,"v":-49.7},{"i":304,"v":-49.5},{"i":305,"v":-49.4},{"i":306,"v":-49.3},{"i":307,"v":-49.2},{"i":308,"v":-49.1},{"i":309,"v":-49.0},{"i":310,"v":-48.9},
      {"i":311,"v":-48.8},{"i":312,"v":-48.8},{"i":313,"v":-48.7},{"i":314,"v":-48.6},{"i":315,"v":-48.6},{"i":316,"v":-48.5},{"i":317,"v":-48.5},{"i":318,"v":-48.4},{"i":319,"v":-48.4},{"i":320,"v":-48.4},
      {"i":321,"v":-48.4},{"i":322,"v":-48.3},{"i":323,"v":-48.3},{"i":324,"v":-48.3},{"i":325,"v":-48.3},{"i":326,"v":-48.3},{"i":327,"v":-48.4},{"i":328,"v":-48.2},{"i":329,"v":-48.3},{"i":330,"v":-48.5},
      {"i":331,"v":-48.3},{"i":332,"v":-48.2},{"i":333,"v":-48.4},{"i":334,"v":-48.3},{"i":335,"v":-48.1},{"i":336,"v":-48.4},{"i":337,"v":-48.3},{"i":338,"v":-48.2},{"i":339,"v":-48.5},{"i":340,"v":-48.3},
      {"i":341,"v":-48.4},{"i":342,"v":-48.2},{"i":343,"v":-48.3},{"i":344,"v":-48.1},{"i":345,"v":-48.4},{"i":346,"v":-48.3},{"i":347,"v":-48.5},{"i":348,"v":-48.2},{"i":349,"v":-48.3},{"i":350,"v":-48.4},
      {"i":351,"v":-48.2},{"i":352,"v":-48.3},{"i":353,"v":-48.4},{"i":354,"v":-48.0},{"i":355,"v":-48.3},{"i":356,"v":-48.4},{"i":357,"v":-48.2},{"i":358,"v":-48.3},{"i":359,"v":-48.5},{"i":360,"v":-48.3},
      {"i":361,"v":-48.2},{"i":362,"v":-48.4},{"i":363,"v":-48.3},{"i":364,"v":-47.5},{"i":365,"v":-48.3},{"i":366,"v":-48.2},{"i":367,"v":-48.4},{"i":368,"v":-48.3},{"i":369,"v":-48.5},{"i":370,"v":-48.2},
      {"i":371,"v":-48.3},{"i":372,"v":-48.4},{"i":373,"v":-48.1},{"i":374,"v":-48.3},{"i":375,"v":-48.4},{"i":376,"v":-48.3},{"i":377,"v":-48.2},{"i":378,"v":-48.4},{"i":379,"v":-48.3},{"i":380,"v":-48.5},
      {"i":381,"v":-48.2},{"i":382,"v":-48.3},{"i":383,"v":-48.4},{"i":384,"v":-48.3},{"i":385,"v":-48.2},{"i":386,"v":-48.4},{"i":387,"v":-48.3},{"i":388,"v":-48.1},{"i":389,"v":-48.3},{"i":390,"v":-48.4},
      {"i":391,"v":-48.2},{"i":392,"v":-48.5},{"i":393,"v":-48.3},{"i":394,"v":-48.4},{"i":395,"v":-48.2},{"i":396,"v":-48.3},{"i":397,"v":-48.4},{"i":398,"v":-48.3},{"i":399,"v":-48.2},{"i":400,"v":-48.5},
      {"i":401,"v":-48.3},{"i":402,"v":-48.2},{"i":403,"v":-48.4},{"i":404,"v":-48.3},{"i":405,"v":-48.4},{"i":406,"v":-48.2},{"i":407,"v":-48.3},{"i":408,"v":-48.5},{"i":409,"v":-48.3},{"i":410,"v":-48.4},
      {"i":411,"v":-48.2},{"i":412,"v":-48.3},{"i":413,"v":-48.4},{"i":414,"v":-48.1},{"i":415,"v":-48.3},{"i":416,"v":-48.4},{"i":417,"v":-48.3},{"i":418,"v":-48.2},{"i":419,"v":-48.5},{"i":420,"v":-48.3},
      {"i":421,"v":-48.4},{"i":422,"v":-48.2},{"i":423,"v":-48.3},{"i":424,"v":-48.4},{"i":425,"v":-48.3},{"i":426,"v":-48.2},{"i":427,"v":-48.4},{"i":428,"v":-48.3},{"i":429,"v":-48.5},{"i":430,"v":-48.2},
      {"i":431,"v":-48.3},{"i":432,"v":-48.4},{"i":433,"v":-48.3},{"i":434,"v":-48.2},{"i":435,"v":-48.4},{"i":436,"v":-48.3},{"i":437,"v":-48.5},{"i":438,"v":-48.2},{"i":439,"v":-48.3},{"i":440,"v":-48.4},
      {"i":441,"v":-48.3},{"i":442,"v":-48.2},{"i":443,"v":-48.4},{"i":444,"v":-48.3},{"i":445,"v":-48.5},{"i":446,"v":-48.3},{"i":447,"v":-48.2},{"i":448,"v":-48.4},{"i":449,"v":-48.3},{"i":450,"v":-48.1},
      {"i":451,"v":-48.4},{"i":452,"v":-48.3},{"i":453,"v":-48.2},{"i":454,"v":-48.4},{"i":455,"v":-48.3},{"i":456,"v":-48.5},{"i":457,"v":-48.3},{"i":458,"v":-48.2},{"i":459,"v":-48.4},{"i":460,"v":-48.3},
      {"i":461,"v":-48.2},{"i":462,"v":-48.4},{"i":463,"v":-48.3},{"i":464,"v":-48.5},{"i":465,"v":-48.2},{"i":466,"v":-48.3},{"i":467,"v":-48.4},{"i":468,"v":-48.3},{"i":469,"v":-48.2},{"i":470,"v":-48.4},
      {"i":471,"v":-48.3},{"i":472,"v":-48.5},{"i":473,"v":-48.3},{"i":474,"v":-48.2},{"i":475,"v":-48.4},{"i":476,"v":-48.3},{"i":477,"v":-48.2},{"i":478,"v":-48.4},{"i":479,"v":-48.5},{"i":480,"v":-48.3},
      {"i":481,"v":-48.2},{"i":482,"v":-48.4},{"i":483,"v":-48.3},{"i":484,"v":-48.1},{"i":485,"v":-48.3},{"i":486,"v":-48.4},{"i":487,"v":-48.3},{"i":488,"v":-48.2},{"i":489,"v":-48.4},{"i":490,"v":-48.3},
      {"i":491,"v":-48.5},{"i":492,"v":-48.3},{"i":493,"v":-48.2},{"i":494,"v":-48.4},{"i":495,"v":-48.3},{"i":496,"v":-48.2},{"i":497,"v":-48.4},{"i":498,"v":-48.3},{"i":499,"v":-48.5},{"i":500,"v":-48.3}
    ]
  },
  "vconcat": [
    {
      "spacing": 0,
      "hconcat": [
        {"width": 1, "height": 1, "view": {"fill": null, "stroke": null}, "data": {"values": []}, "mark": {"type": "point", "opacity": 0}},
        {
          "width": 667,
          "height": 318,
          "title": {"text": "Simulation 1: y=(0,10), N=100 particles", "offset": -4},
          "layer": [
            {
              "data": {"name": "sim1"},
              "mark": {"type": "circle", "size": 6, "color": "black", "opacity": 1},
              "encoding": {
                "x": {
                  "field": "i", "type": "quantitative",
                  "scale": {"domain": [-25, 525], "nice": false, "zero": false},
                  "axis": {
                    "title": "Iteration count",
                    "values": [0, 50, 100, 150, 200, 250, 300, 350, 400, 450, 500],
                    "labelExpr": "datum.value % 100 === 0 ? datum.label : ''",
                    "gridColor": {"condition": {"test": "datum.value % 100 === 0", "value": "white"}, "value": "#F0F0F0"},
                    "gridWidth": {"condition": {"test": "datum.value % 100 === 0", "value": 1.2}, "value": 0.7},
                    "tickOpacity": {"condition": {"test": "datum.value % 100 === 0", "value": 1}, "value": 0}
                  }
                },
                "y": {
                  "field": "v", "type": "quantitative",
                  "scale": {"domain": [-22.63, -11.9], "nice": false, "zero": false},
                  "axis": {
                    "title": "Normalising constant estimate (log)",
                    "titlePadding": 5,
                    "labelFontSize": 19,
                    "values": [-22.5, -21.25, -20, -18.75, -17.5, -16.25, -15, -13.75, -12.5],
                    "labelExpr": "datum.value % 2.5 === 0 ? (datum.value < 0 ? '-' : '') + format(abs(datum.value), '.1f') : ''",
                    "gridColor": {"condition": {"test": "datum.value % 2.5 === 0", "value": "white"}, "value": "#F0F0F0"},
                    "gridWidth": {"condition": {"test": "datum.value % 2.5 === 0", "value": 1.2}, "value": 0.7},
                    "tickOpacity": {"condition": {"test": "datum.value % 2.5 === 0", "value": 1}, "value": 0}
                  }
                }
              }
            },
            {
              "data": {"values": [{"ref": -12.876}]},
              "mark": {"type": "rule", "color": "#F03A3A", "strokeWidth": 1.6, "strokeDash": [8, 3, 2, 3]},
              "encoding": {"y": {"field": "ref", "type": "quantitative", "title": "Normalising constant estimate (log)"}}
            }
          ]
        }
      ]
    },
    {
      "spacing": 0,
      "hconcat": [
        {"width": 1, "height": 1, "view": {"fill": null, "stroke": null}, "data": {"values": []}, "mark": {"type": "point", "opacity": 0}},
        {
          "width": 683,
          "height": 318,
          "title": {"text": "Simulation 2: y=(0,15), N=100 particles", "offset": -1},
          "layer": [
            {
              "data": {"name": "sim2"},
              "mark": {"type": "circle", "size": 6, "color": "black", "opacity": 1},
              "encoding": {
                "x": {
                  "field": "i", "type": "quantitative",
                  "scale": {"domain": [-25, 525], "nice": false, "zero": false},
                  "axis": {
                    "title": "Iteration count",
                    "values": [0, 50, 100, 150, 200, 250, 300, 350, 400, 450, 500],
                    "labelExpr": "datum.value % 100 === 0 ? datum.label : ''",
                    "gridColor": {"condition": {"test": "datum.value % 100 === 0", "value": "white"}, "value": "#F0F0F0"},
                    "gridWidth": {"condition": {"test": "datum.value % 100 === 0", "value": 1.2}, "value": 0.7},
                    "tickOpacity": {"condition": {"test": "datum.value % 100 === 0", "value": 1}, "value": 0}
                  }
                },
                "y": {
                  "field": "v", "type": "quantitative",
                  "scale": {"domain": [-64.4, -25.45], "nice": false, "zero": false},
                  "axis": {
                    "title": "Normalising constant estimate (log)",
                    "titlePadding": 7,
                    "values": [-60, -55, -50, -45, -40, -35, -30],
                    "labelExpr": "datum.value % 10 === 0 ? (datum.value < 0 ? '-' : '') + format(abs(datum.value), 'd') : ''",
                    "gridColor": {"condition": {"test": "datum.value % 10 === 0", "value": "white"}, "value": "#F0F0F0"},
                    "gridWidth": {"condition": {"test": "datum.value % 10 === 0", "value": 1.2}, "value": 0.7},
                    "tickOpacity": {"condition": {"test": "datum.value % 10 === 0", "value": 1}, "value": 0}
                  }
                }
              }
            },
            {
              "data": {"values": [{"ref": -27.64}]},
              "mark": {"type": "rule", "color": "#D23030", "strokeWidth": 1.1, "strokeDash": [8, 3, 2, 3]},
              "encoding": {"y": {"field": "ref", "type": "quantitative", "title": "Normalising constant estimate (log)"}}
            }
          ]
        }
      ]
    },
    {
      "spacing": 0,
      "hconcat": [
        {"width": 1, "height": 1, "view": {"fill": null, "stroke": null}, "data": {"values": []}, "mark": {"type": "point", "opacity": 0}},
        {
          "width": 674,
          "height": 318,
          "title": {"text": "Simulation 3: y=(0,20), N=100 particles", "offset": -4},
          "layer": [
            {
              "data": {"name": "sim3"},
              "mark": {"type": "circle", "size": 6, "color": "black", "opacity": 1},
              "encoding": {
                "x": {
                  "field": "i", "type": "quantitative",
                  "scale": {"domain": [-25, 525], "nice": false, "zero": false},
                  "axis": {
                    "title": "Iteration count",
                    "values": [0, 50, 100, 150, 200, 250, 300, 350, 400, 450, 500],
                    "labelExpr": "datum.value % 100 === 0 ? datum.label : ''",
                    "gridColor": {"condition": {"test": "datum.value % 100 === 0", "value": "white"}, "value": "#F0F0F0"},
                    "gridWidth": {"condition": {"test": "datum.value % 100 === 0", "value": 1.2}, "value": 0.7},
                    "tickOpacity": {"condition": {"test": "datum.value % 100 === 0", "value": 1}, "value": 0}
                  }
                },
                "y": {
                  "field": "v", "type": "quantitative",
                  "scale": {"domain": [-118.85, -43.9], "nice": false, "zero": false},
                  "axis": {
                    "title": "Normalising constant estimate (log)",
                    "titlePadding": 2.5,
                    "values": [-110, -100, -90, -80, -70, -60, -50],
                    "labelExpr": "datum.value % 20 === 0 ? (datum.value < 0 ? '-' : '') + format(abs(datum.value), 'd') : ''",
                    "gridColor": {"condition": {"test": "datum.value % 20 === 0", "value": "white"}, "value": "#F0F0F0"},
                    "gridWidth": {"condition": {"test": "datum.value % 20 === 0", "value": 1.2}, "value": 0.7},
                    "tickOpacity": {"condition": {"test": "datum.value % 20 === 0", "value": 1}, "value": 0}
                  }
                }
              }
            },
            {
              "data": {"values": [{"ref": -48.2}]},
              "mark": {"type": "rule", "color": "#D23030", "strokeWidth": 1.1, "strokeDash": [8, 3, 2, 3]},
              "encoding": {"y": {"field": "ref", "type": "quantitative", "title": "Normalising constant estimate (log)"}}
            }
          ]
        }
      ]
    }
  ]
}
